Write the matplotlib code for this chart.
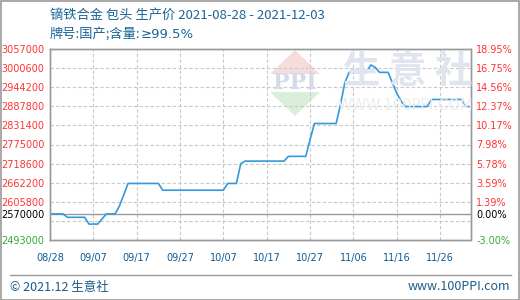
import matplotlib
matplotlib.use("Agg")
import matplotlib.pyplot as plt
import matplotlib.patches as mpatches
import pandas as pd
import numpy as np

plt.rcParams['font.family'] = ['Noto Sans CJK SC', 'DejaVu Sans']

title_line1 = "镝铁合金 包头 生产价 2021-08-28 - 2021-12-03"
title_line2a = "牌号:国产;含量:"
title_line2b = "≥99.5%"
footer_left = "© 2021.12 生意社"
footer_right = "www.100PPI.com"

start_date = "2021-08-28"
end_date = "2021-12-03"
prices = (
    [2570000] * 4 + [2560000] * 5 + [2540000] * 3 + [2555000] + [2570000] * 3 +
    [2593000, 2626000] + [2660000] * 8 + [2640000] * 15 + [2660000] * 3 +
    [2718000] + [2726000] * 10 + [2740000] * 5 + [2790000] + [2837000] * 6 +
    [2892000, 2957000] + [2988000] * 5 + [3010000, 3003000] + [2988000] * 3 +
    [2957000, 2926000, 2903000] + [2887000] * 6 + [2908000] * 8 + [2887000] * 2
)
base_price = 2570000
y_min = 2493000
y_max = 3057000
y_step = 56400
x_tick_labels = ["08/28", "09/07", "09/17", "09/27", "10/07", "10/17",
                 "10/27", "11/06", "11/16", "11/26"]

dates = pd.date_range(start_date, end_date, freq="D")

W, H = 520, 300
fig = plt.figure(figsize=(W / 100, H / 100), dpi=100)
fig.patch.set_facecolor("white")


def fx(px):
    return px / W


def fy(py):
    return 1 - py / H


# outer border
fig.add_artist(mpatches.Rectangle((0.5 / W, 0.5 / H), (W - 1.5) / W, (H - 1.5) / H,
                                  transform=fig.transFigure, fill=False,
                                  edgecolor="#9a9a9a", linewidth=1.2))

L, R, T, B = 50, 470.5, 49, 240
ax = fig.add_axes([L / W, 1 - B / H, (R - L) / W, (B - T) / H])
ax.set_facecolor("none")

# watermark
fig.add_artist(mpatches.Polygon([(fx(295), fy(50)), (fx(270), fy(74)), (fx(320), fy(74))],
                                closed=True, transform=fig.transFigure,
                                facecolor="#f7dcdc", edgecolor="none", zorder=0))
fig.add_artist(mpatches.Polygon([(fx(295), fy(116)), (fx(270), fy(92)), (fx(320), fy(92))],
                                closed=True, transform=fig.transFigure,
                                facecolor="#d9efdc", edgecolor="none", zorder=0))
fig.text(fx(295), fy(83), "PPI", ha="center", va="center", fontsize=16,
         family="DejaVu Serif", fontweight="bold", color="#d3dbea", zorder=0)
fig.text(fx(408), fy(72), "生 意 社", ha="center", va="center", fontsize=27,
         fontweight="bold", color="#dfe4ee", zorder=0)
fig.text(fx(405), fy(106), "WWW.100PPI.COM", ha="center", va="center", fontsize=10.5,
         family="DejaVu Sans", color="#ececec", zorder=0)

ax.plot(dates, prices, color="#3399dd", linewidth=1.2, zorder=5)

ax.set_xlim(dates[0], dates[-1])
ax.set_ylim(y_min, y_max)

grid_levels = np.arange(y_max, y_min, -y_step)
for lv in grid_levels[1:]:
    ax.axhline(lv, color="#c8c8c8", linestyle=(0, (3, 2)), linewidth=0.8, zorder=1)
ax.axhline(base_price, color="#999999", linewidth=1.0, zorder=2)

tick_dates = pd.date_range(start_date, periods=len(x_tick_labels), freq="10D")
for d in tick_dates[1:]:
    ax.axvline(d, color="#c8c8c8", linestyle=(0, (3, 2)), linewidth=0.8, zorder=1)

ax.set_xticks(tick_dates)
ax.set_xticklabels(x_tick_labels, family="DejaVu Sans", fontsize=7, color="#0a5a96")
ax.tick_params(axis="x", length=0, pad=9)

left_ticks = list(grid_levels[:-1]) + [base_price, y_min]
left_labels = [f"{int(v)}" for v in left_ticks]
ax.set_yticks(left_ticks)
ax.set_yticklabels(left_labels, family="DejaVu Sans", fontsize=7)
ax.tick_params(axis="y", length=0, pad=4)


def colour_labels(labels):
    for lab, v in zip(labels, left_ticks):
        if v == base_price:
            lab.set_color("black")
        elif v == y_min:
            lab.set_color("#33aa33")
        else:
            lab.set_color("#ff3333")


colour_labels(ax.get_yticklabels())

ax2 = ax.twinx()
ax2.set_ylim(y_min, y_max)
ax2.set_yticks(left_ticks)
pct_labels = [f"{(v / base_price - 1) * 100:.2f}%" for v in left_ticks]
ax2.set_yticklabels(pct_labels, family="DejaVu Sans", fontsize=7)
ax2.tick_params(axis="y", length=0, pad=4)
colour_labels(ax2.get_yticklabels())

for a in (ax, ax2):
    for s in a.spines.values():
        s.set_color("#999999")
        s.set_linewidth(1.0)

title_col = "#1a6496"
fig.text(fx(50), fy(15), title_line1, ha="left", va="center", fontsize=9.5, color=title_col)
t2a = fig.text(fx(50), fy(34), title_line2a, ha="left", va="center", fontsize=9.5, color=title_col)
renderer = fig.canvas.get_renderer()
bb = t2a.get_window_extent(renderer=renderer)
fig.text(bb.x1 / W, fy(34), title_line2b, ha="left", va="center", fontsize=9.5,
         family="DejaVu Sans", color=title_col)

fig.add_artist(plt.Line2D([fx(10), fx(511)], [fy(275), fy(275)], transform=fig.transFigure,
                          color="#999999", linewidth=1.0))
fig.text(fx(10), fy(287), footer_left, ha="left", va="center", fontsize=9, color="#1a5b8a")
fig.text(fx(510), fy(287), footer_right, ha="right", va="center", fontsize=9, color="#1a5b8a")

fig.savefig("out.png", dpi=100, facecolor="white")
